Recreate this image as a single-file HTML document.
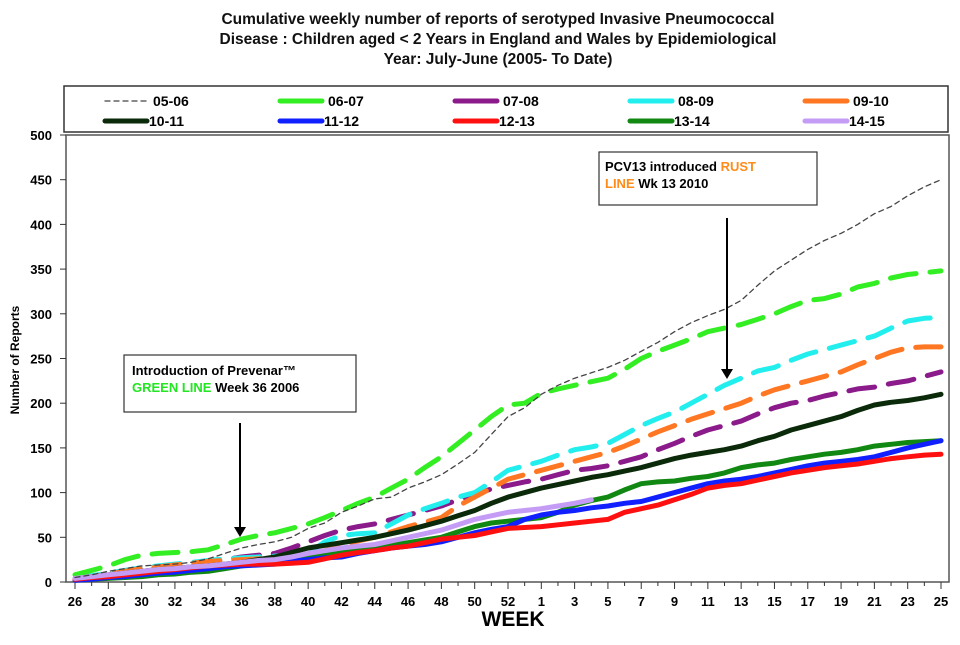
<!DOCTYPE html>
<html><head><meta charset="utf-8"><style>
body{margin:0;background:#fff;}
svg text{font-family:"Liberation Sans",sans-serif;}
</style></head><body>
<svg id="chart" width="960" height="640" viewBox="0 0 960 640" xmlns="http://www.w3.org/2000/svg">
<g font-weight="bold" font-size="15.5" text-anchor="middle" fill="#111">
<text x="498" y="24">Cumulative weekly number of reports of serotyped Invasive Pneumococcal</text>
<text x="498" y="44">Disease :  Children aged &lt; 2 Years in England and Wales by Epidemiological</text>
<text x="498" y="64">Year: July-June (2005- To Date)</text>
</g>
<rect x="64" y="86" width="884" height="46" fill="#fff" stroke="#333" stroke-width="1.5"/>
<g id="legend"></g>
<rect x="66" y="135" width="883" height="447" fill="#fff" stroke="#555" stroke-width="1.5"/>
<g id="axes"></g>
<g id="series"></g>
<text transform="translate(19,360) rotate(-90)" text-anchor="middle" font-size="12" font-weight="bold">Number of Reports</text>
<text x="513" y="626" text-anchor="middle" font-size="21" font-weight="bold">WEEK</text>
<g>
<rect x="124" y="355" width="232" height="57" fill="#fff" stroke="#333" stroke-width="1.2"/>
<text x="132" y="375" font-size="13" font-weight="bold">Introduction of Prevenar™</text>
<text x="132" y="392" font-size="13" font-weight="bold"><tspan fill="#22e622">GREEN  LINE</tspan> Week 36 2006</text>
<line x1="240" y1="423" x2="240" y2="528" stroke="#000" stroke-width="2"/>
<polygon points="234,527 246,527 240,537" fill="#000"/>
</g>
<g>
<rect x="599" y="152" width="218" height="53" fill="#fff" stroke="#333" stroke-width="1.2"/>
<text x="605" y="171" font-size="13" font-weight="bold">PCV13 introduced <tspan fill="#ff8c1a">RUST</tspan></text>
<text x="605" y="188" font-size="13" font-weight="bold"><tspan fill="#ff8c1a">LINE</tspan> Wk 13 2010</text>
<line x1="727" y1="218" x2="727" y2="370" stroke="#000" stroke-width="2"/>
<polygon points="721,369 733,369 727,379" fill="#000"/>
</g>
</svg>
<script>
const weeks=[26,27,28,29,30,31,32,33,34,35,36,37,38,39,40,41,42,43,44,45,46,47,48,49,50,51,52,53,1,2,3,4,5,6,7,8,9,10,11,12,13,14,15,16,17,18,19,20,21,22,23,24,25];
const yTicks=[0,50,100,150,200,250,300,350,400,450,500];
const s0506=[5,8,12,15,18,19,20,22,26,32,38,42,45,50,60,66,78,85,93,95,105,112,120,132,145,165,185,195,210,220,228,234,240,248,258,268,280,290,298,305,315,332,348,360,372,382,390,400,412,420,432,442,450];
const s0607=[8,13,18,25,30,32,33,34,36,42,48,52,55,60,65,72,80,88,95,105,115,128,140,155,170,185,198,200,211,216,220,224,228,238,250,258,265,272,280,284,288,294,300,308,315,317,322,330,334,340,344,346,348];
const s0708=[3,6,9,12,15,17,19,21,23,25,28,30,32,38,45,52,58,62,65,70,75,80,85,92,98,104,108,112,115,120,125,127,130,135,140,148,155,163,170,175,180,188,195,200,203,208,212,216,218,222,225,230,235];
const s0809=[4,7,10,13,16,18,20,22,24,26,27,28,29,30,32,45,52,54,55,65,75,82,88,95,100,112,125,130,135,142,148,151,155,165,175,183,190,200,210,220,228,236,240,248,255,260,265,270,275,284,292,295,296];
const s0910=[4,6,9,12,15,17,19,21,23,24,25,26,27,28,28,35,42,46,50,56,62,67,72,85,95,105,115,120,125,130,135,140,145,152,160,168,175,182,188,194,200,208,215,220,225,230,235,243,250,257,262,263,263];
const s1011=[3,6,8,10,12,14,15,17,18,20,22,25,28,33,38,41,44,47,50,54,58,63,68,74,80,88,95,100,105,109,113,117,120,124,128,133,138,142,145,148,152,158,163,170,175,180,185,192,198,201,203,206,210];
const s1112=[2,3,5,6,8,10,11,13,15,17,18,19,20,23,25,27,28,32,35,38,40,42,45,50,55,59,62,70,75,78,80,83,85,88,90,95,100,105,110,113,115,118,122,126,130,133,135,137,140,145,150,154,158];
const s1213=[3,5,6,8,10,12,14,16,18,19,20,20,20,21,22,26,30,33,35,38,40,44,48,50,52,56,60,61,62,64,66,68,70,78,82,86,92,98,105,108,110,114,118,122,125,128,130,132,135,138,140,142,143];
const s1314=[2,3,4,5,6,8,9,11,12,15,18,21,24,26,28,31,34,36,38,41,44,47,50,56,62,66,68,70,72,78,86,91,95,103,110,112,113,116,118,122,128,131,133,137,140,143,145,148,152,154,156,157,158];
const s1415=[4,6,8,10,12,14,15,17,18,20,22,24,25,28,32,35,38,40,42,46,50,54,58,64,70,74,78,80,82,85,88,92];
const seriesNames=["05-06","06-07","07-08","08-09","09-10","10-11","11-12","12-13","13-14","14-15"];
const seriesData=[s0506,s0607,s0708,s0809,s0910,s1011,s1112,s1213,s1314,s1415];
const colors=["#444","#33ee22","#8b1a8b","#22eeee","#ff7722","#0a2a0a","#1020ff","#ff1010","#118811","#c49cf5"];
const widths=[1.3,5,5,5,5,5,5,5,5,5];
const dashes=["5,4","26,14","26,14","26,14","26,14","","","","",""];

const NS="http://www.w3.org/2000/svg";
const X0=75,X1=941,Y0=582,Y1=135,VMAX=500;
function xs(i){return X0+(X1-X0)*i/(weeks.length-1);}
function ys(v){return Y0-(Y0-Y1)*v/VMAX;}
function mk(tag,attrs,parent){const e=document.createElementNS(NS,tag);for(const k in attrs)e.setAttribute(k,attrs[k]);parent.appendChild(e);return e;}

const axes=document.getElementById('axes');
yTicks.forEach(t=>{
  const l=mk('line',{x1:60,x2:66,y1:ys(t),y2:ys(t),stroke:'#333','stroke-width':1},axes);
  
  
  const tx=mk('text',{x:52,y:ys(t)+5,'text-anchor':'end','font-size':13,'font-weight':'bold'},axes);
  tx.textContent=t;
  
  
});
weeks.forEach((w,i)=>{
  const l=mk('line',{x1:xs(i),x2:xs(i),y1:Y0,y2:Y0+(i%2===0?7:4),stroke:'#333','stroke-width':1},axes);
  
  
  if(i%2===0){
    const tx=mk('text',{x:xs(i),y:606,'text-anchor':'middle','font-size':13,'font-weight':'bold'},axes);
    tx.textContent=w;
    
    
  }
});

const sg=document.getElementById('series');
const order=[2,3,4,1,5,8,6,7,9,0];
order.forEach(k=>{
  const pts=seriesData[k].map((v,i)=>xs(i).toFixed(1)+','+ys(v).toFixed(1)).join(' ');
  const p=mk('polyline',{points:pts,fill:'none',stroke:colors[k],'stroke-width':widths[k],'stroke-linejoin':'round','stroke-linecap':'round'},sg);
  if(dashes[k])p.setAttribute('stroke-dasharray',dashes[k]);
  
  
});

const lg=document.getElementById('legend');
seriesNames.forEach((n,k)=>{
  const col=k%5,row=Math.floor(k/5);
  const x=105+col*175,y=101+row*20;
  const ln=mk('line',{x1:x,x2:x+42,y1:y,y2:y,stroke:colors[k],'stroke-width':k===0?1.3:5,'stroke-linecap':'round'},lg);
  if(k===0)ln.setAttribute('stroke-dasharray','5,4');
  
  
  const tx=mk('text',{x:x+(k<5?48:44),y:y+5,'font-size':14,'font-weight':'bold'},lg);
  tx.textContent=n;
  
  
});
</script>
</body></html>
